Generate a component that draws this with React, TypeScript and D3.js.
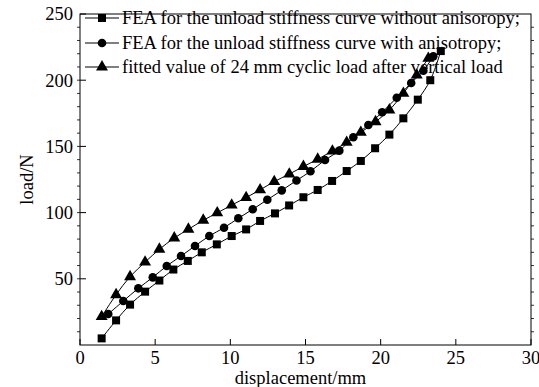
import React from 'react';
import * as d3 from 'd3';

// Series: FEA without anisotropy (squares)
const sqX = [1.44, 2.40, 3.33, 4.33, 5.28, 6.21, 7.17, 8.10, 9.10, 10.09, 11.05, 11.98, 12.97, 13.91, 14.86, 15.81, 16.77, 17.74, 18.68, 19.63, 20.58, 21.51, 22.47, 23.3, 24.0];
const sqY = [5.0, 18.6, 30.5, 40.3, 48.7, 57.0, 63.5, 70.0, 76.0, 82.3, 87.3, 93.7, 99.4, 105.4, 111.6, 117.1, 123.9, 131.4, 139.0, 148.6, 158.9, 171.2, 185.3, 200.0, 222.0];
// Series: FEA with anisotropy (circles)
const ciX = [1.88, 2.88, 3.88, 4.84, 5.77, 6.72, 7.65, 8.60, 9.58, 10.53, 11.49, 12.46, 13.42, 14.40, 15.33, 16.30, 17.25, 18.18, 19.18, 20.10, 21.07, 22.03, 22.84, 23.5];
const ciY = [23.4, 33.2, 42.8, 51.1, 59.7, 67.2, 74.8, 82.3, 88.6, 95.7, 102.5, 109.7, 116.8, 124.2, 131.2, 139.7, 146.8, 156.9, 166.2, 175.8, 186.8, 197.9, 207.2, 218.0];
// Series: fitted value (triangles)
const trX = [1.44, 2.40, 3.33, 4.33, 5.28, 6.27, 7.21, 8.20, 9.13, 10.09, 11.05, 11.98, 12.92, 13.92, 14.86, 15.81, 16.79, 17.74, 18.68, 19.66, 20.58, 21.51, 22.40, 23.17];
const trY = [21.4, 38.0, 51.6, 62.6, 72.3, 80.8, 87.4, 94.2, 99.8, 105.7, 111.3, 117.2, 123.4, 129.1, 134.8, 140.3, 146.5, 153.1, 160.6, 168.6, 177.5, 190.1, 203.9, 216.5];

const xTicks = [0, 5, 10, 15, 20, 25, 30];
const yTicks = [50, 100, 150, 200, 250];
const yMinorTicks = d3.range(10, 250, 10);
const legendLabels = [
  'FEA for the unload stiffness curve without anisoropy;',
  'FEA for the unload stiffness curve with anisotropy;',
  'fitted value of 24 mm cyclic load after vertical load',
];
const markerTypes = ['square', 'circle', 'triangle'];

const FONT = '"Liberation Serif", "Times New Roman", Times, serif';
const textStyle = { fontFamily: FONT, fontSize: '18.5px' } as React.CSSProperties;

function Marker({ type, cx, cy }: { type: string; cx: number; cy: number }) {
  if (type === 'square') return <rect x={cx - 4} y={cy - 4} width={8} height={8} fill="#000" />;
  if (type === 'circle') return <circle cx={cx} cy={cy} r={4.3} fill="#000" />;
  const p = d3.symbol(d3.symbolTriangle, 62)() as string;
  return <path d={p} transform={`translate(${cx},${cy})`} fill="#000" />;
}

export default function App() {
  const W = 539, H = 387;
  const x = d3.scaleLinear().domain([0, 30]).range([80, 531]);
  const y = d3.scaleLinear().domain([0, 250]).range([345, 14]);
  const line = d3.line<[number, number]>()
    .x((d) => x(d[0]))
    .y((d) => y(d[1]))
    .curve(d3.curveCatmullRom.alpha(0.5));

  const series = [
    { xs: sqX, ys: sqY, type: 'square' },
    { xs: ciX, ys: ciY, type: 'circle' },
    { xs: trX, ys: trY, type: 'triangle' },
  ];

  const legendY = [18, 43, 67];

  return (
    <svg width={W} height={H} style={{ position: 'absolute', left: 0, top: 0, background: '#fff' }}>
      <rect x={0} y={0} width={W} height={H} fill="#fff" />
      {/* frame */}
      <rect x={x(0)} y={y(250)} width={x(30) - x(0)} height={y(0) - y(250)} fill="none" stroke="#000" strokeWidth={1} />
      {/* y minor ticks */}
      {yMinorTicks.map((t) => (
        <g key={'ym' + t}>
          <line x1={x(0) - 3} x2={x(0)} y1={y(t)} y2={y(t)} stroke="#000" strokeWidth={0.8} />
          <line x1={x(30)} x2={x(30) + 3} y1={y(t)} y2={y(t)} stroke="#000" strokeWidth={0.8} />
        </g>
      ))}
      {/* y major ticks */}
      {yTicks.map((t) => (
        <g key={'y' + t}>
          <line x1={x(0)} x2={x(0) + 6} y1={y(t)} y2={y(t)} stroke="#000" strokeWidth={1} />
          <text x={x(0) - 7} y={y(t)} dy="0.35em" textAnchor="end" style={textStyle}>{t}</text>
        </g>
      ))}
      {/* x ticks */}
      {xTicks.map((t) => (
        <g key={'x' + t}>
          <line x1={x(t)} x2={x(t)} y1={y(0)} y2={y(0) - 6} stroke="#000" strokeWidth={1} />
          <text x={x(t)} y={y(0) + 19} textAnchor="middle" style={textStyle}>{t}</text>
        </g>
      ))}
      <text x={(x(0) + x(30)) / 2 - 5} y={384} textAnchor="middle" style={textStyle}>displacement/mm</text>
      <text transform={`translate(33,${(y(0) + y(250)) / 2}) rotate(-90)`} textAnchor="middle" style={textStyle}>load/N</text>
      {/* series */}
      {series.map((s, i) => {
        const pts = s.xs.map((v, j) => [v, s.ys[j]] as [number, number]);
        return (
          <g key={'s' + i}>
            <path d={line(pts) as string} fill="none" stroke="#000" strokeWidth={1} />
            {pts.map((p, j) => <Marker key={j} type={s.type} cx={x(p[0])} cy={y(p[1])} />)}
          </g>
        );
      })}
      {/* legend */}
      {legendLabels.map((lab, i) => (
        <g key={'l' + i}>
          <line x1={85} x2={119} y1={legendY[i]} y2={legendY[i]} stroke="#000" strokeWidth={1} />
          <Marker type={markerTypes[i]} cx={102} cy={legendY[i]} />
          <text x={122} y={legendY[i]} dy="0.35em" style={textStyle}>{lab}</text>
        </g>
      ))}
    </svg>
  );
}
